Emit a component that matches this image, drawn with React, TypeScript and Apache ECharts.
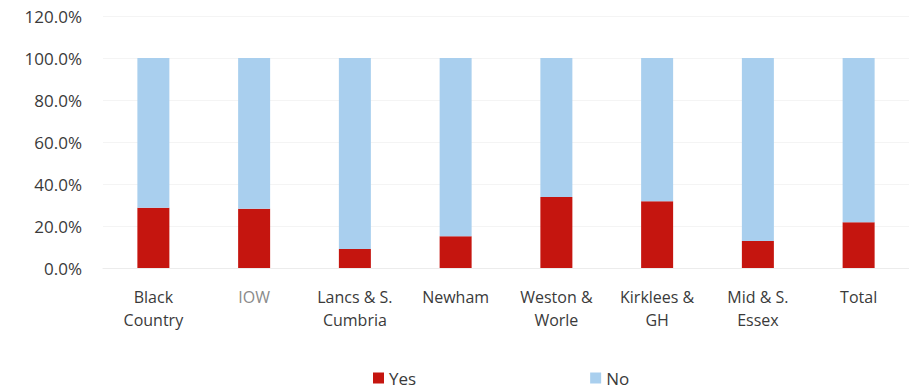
import React, { useEffect, useRef } from "react";
import * as echarts from "echarts";

const categories = [
  "Black\nCountry",
  "IOW",
  "Lancs & S.\nCumbria",
  "Newham",
  "Weston &\nWorle",
  "Kirklees &\nGH",
  "Mid & S.\nEssex",
  "Total",
];
const yesValues = [28.7, 28.2, 9.0, 15.1, 33.8, 31.8, 12.8, 21.8];
const noValues = [71.3, 71.8, 91.0, 84.9, 66.2, 68.2, 87.2, 78.2];
const yTicks = [0, 20, 40, 60, 80, 100, 120];

const FONT = "'Open Sans', sans-serif";

export default function App() {
  const ref = useRef<HTMLDivElement>(null);
  useEffect(() => {
    if (!ref.current) return;
    const chart = echarts.init(ref.current, null, { renderer: "svg" });
    chart.setOption({
      animation: false,
      backgroundColor: "#ffffff",
      textStyle: { fontFamily: FONT },
      grid: { left: 103, top: 16, width: 813, height: 252 },
      legend: {
        data: [
          { name: "Yes", icon: "rect", itemStyle: { color: "#c5150f" } },
          { name: "No", icon: "rect", itemStyle: { color: "#a9cfee" } },
        ],
        left: 373,
        top: 368,
        padding: 0,
        itemWidth: 11,
        itemHeight: 11,
        itemGap: 174,
        textStyle: { fontFamily: FONT, fontSize: 17, lineHeight: 20, color: "#3a3a3a" },
      },
      xAxis: {
        type: "category",
        data: categories.map((c) =>
          c === "IOW" ? { value: c, textStyle: { color: "#8a8a8a" } } : c
        ),
        axisLine: { show: true, lineStyle: { color: "#ececec" } },
        axisTick: { show: false },
        axisLabel: {
          interval: 0,
          margin: 17,
          fontFamily: FONT,
          fontSize: 16,
          lineHeight: 23,
          color: "#3a3a3a",
        },
      },
      yAxis: {
        type: "value",
        min: yTicks[0],
        max: yTicks[yTicks.length - 1],
        interval: 20,
        axisLine: { show: false },
        axisTick: { show: false },
        splitLine: { show: true, lineStyle: { color: "#f4f4f4" } },
        axisLabel: {
          margin: 21,
          fontFamily: FONT,
          fontSize: 17,
          color: "#3a3a3a",
          formatter: (v: number) => v.toFixed(1) + "%",
        },
      },
      series: [
        {
          name: "Yes",
          type: "bar",
          stack: "total",
          barWidth: 32,
          data: yesValues,
          itemStyle: { color: "#c5150f" },
        },
        {
          name: "No",
          type: "bar",
          stack: "total",
          barWidth: 32,
          data: noValues,
          itemStyle: { color: "#a9cfee" },
        },
      ],
    });
    return () => chart.dispose();
  }, []);
  return (
    <div
      ref={ref}
      style={{ position: "fixed", left: 0, top: 0, width: 909, height: 390 }}
    />
  );
}
